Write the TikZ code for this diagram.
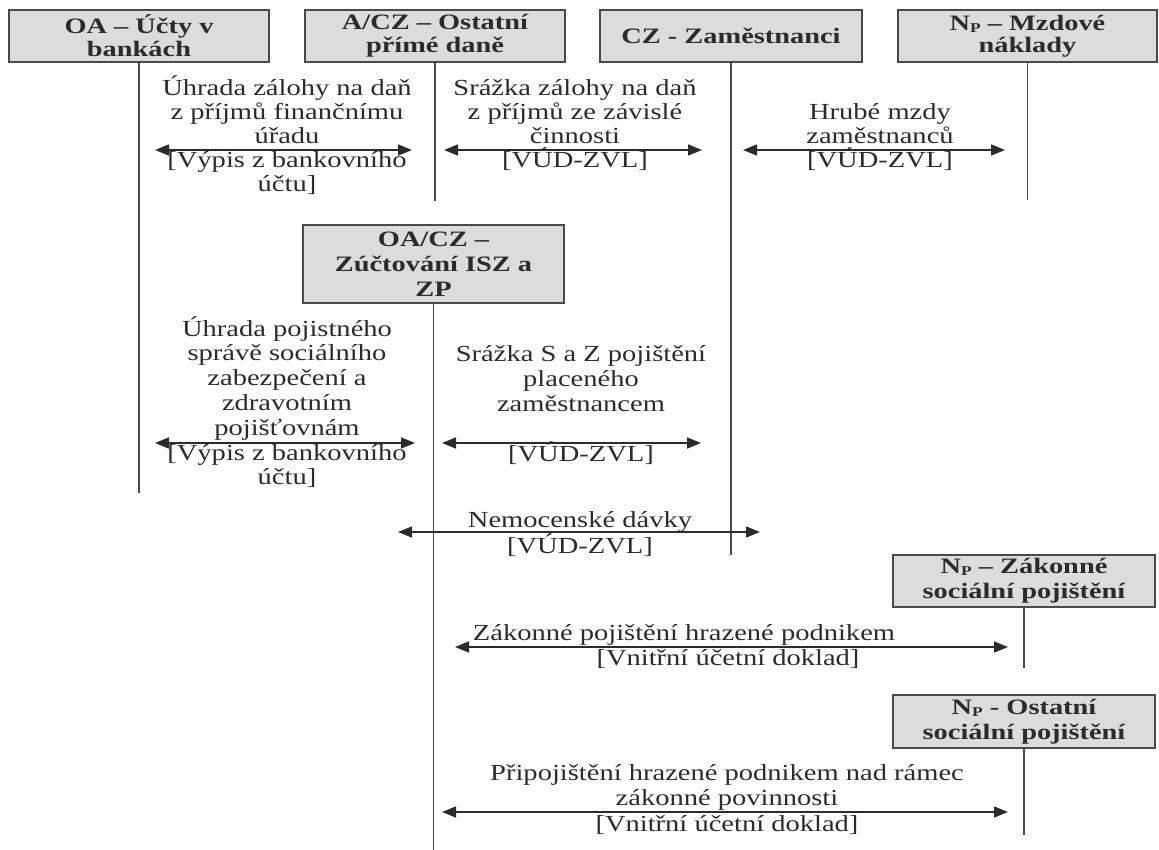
\documentclass[tikz,border=0pt]{standalone}
\usepackage{fontspec}
\setmainfont{Liberation Serif}[FakeStretch=1.24]
\newfontfamily\boxfont{Liberation Serif}[FakeStretch=1.29]
\usetikzlibrary{arrows.meta}

\definecolor{ink}{HTML}{2B2B2B}
\definecolor{boxfill}{HTML}{DCDCDE}
\definecolor{rule}{HTML}{4A4A4A}

% centred block of lines; the baseline of the block is the baseline of its first line
\newcommand\blk[2][24.5pt]{\vtop{\baselineskip=#1\relax\lineskiplimit=-\maxdimen
  \halign{\hfil##\hfil\cr#2\crcr}}}
% N with a small lowered P
\newcommand\Np{N\raisebox{-2pt}{\fontsize{13.5}{13.5}\selectfont P}}

\begin{document}
\begin{tikzpicture}[x=1pt,y=-1pt,
  acct/.style={draw=rule, line width=1.4pt, fill=boxfill, inner sep=0pt,
    font=\boxfont\fontsize{22}{24}\selectfont\bfseries, text=ink,
    minimum width=260pt, minimum height=52pt},
  lbl/.style={inner sep=0pt, anchor=base, font=\fontsize{23}{24.5}\selectfont, text=ink},
  life/.style={draw=rule, line width=1.2pt},
  flow/.style={draw=ink, line width=1.6pt,
    {Triangle[length=14pt,width=11pt]}-{Triangle[length=14pt,width=11pt]}}]

\useasboundingbox (0,0) rectangle (1159,850);

% accounts
\node[acct] (oa)  at (139,36)  {\blk[23pt]{OA – Účty v\cr bankách}};
\node[acct] (acz) at (435,36)  {\blk[23pt]{A/CZ – Ostatní\cr přímé daně}};
\node[acct, minimum width=262pt] (cz) at (731,36) {CZ - Zaměstnanci};
\node[acct, minimum width=259pt] (npm) at (1027.5,36) {\blk[22pt]{\Np{} – Mzdové\cr náklady}};
\node[acct, minimum width=261pt, minimum height=78pt] (isz) at (433.5,264)
  {\blk[25pt]{OA/CZ –\cr Zúčtování ISZ a\cr ZP}};
\node[acct, minimum width=262pt] (npz) at (1024,581)
  {\blk[25pt]{\Np{} – Zákonné\cr sociální pojištění}};
\node[acct, minimum width=262pt, minimum height=53pt] (npo) at (1024,721.5)
  {\blk[25pt]{\Np{} - Ostatní\cr sociální pojištění}};

% lifelines
\coordinate (oaend)  at (oa.south |- 0,493);
\coordinate (aczend) at (acz.south |- 0,201);
\coordinate (czend)  at (cz.south |- 0,555);
\coordinate (npmend) at (npm.south |- 0,200);
\coordinate (iszend) at (isz.south |- 0,850);
\coordinate (npzend) at (npz.south |- 0,668);
\coordinate (npoend) at (npo.south |- 0,835);
\draw[life] (oa.south)  -- (oaend);
\draw[life] (acz.south) -- (aczend);
\draw[life] (cz.south)  -- (czend);
\draw[life] (npm.south) -- (npmend);
\draw[life] (isz.south) -- (iszend);
\draw[life] (npz.south) -- (npzend);
\draw[life] (npo.south) -- (npoend);

% flow arrows
\coordinate (f1a) at (155,150);  \coordinate (f1b) at (412,150);
\coordinate (f2a) at (444,150);  \coordinate (f2b) at (702,150);
\coordinate (f3a) at (743,150);  \coordinate (f3b) at (1005,150);
\coordinate (f4a) at (155,443);  \coordinate (f4b) at (415,443);
\coordinate (f5a) at (442,443);  \coordinate (f5b) at (701,443);
\coordinate (f6a) at (398,532);  \coordinate (f6b) at (760,532);
\coordinate (f7a) at (455,647);  \coordinate (f7b) at (1008,647);
\coordinate (f8a) at (442,812);  \coordinate (f8b) at (1008,812);
\foreach \i in {1,...,8} \draw[flow] (f\i a) -- (f\i b);

% flow labels
\node[lbl] (t1) at (287,96) {\blk[24pt]{Úhrada zálohy na daň\cr z příjmů finančnímu\cr úřadu\cr
  [Výpis z bankovního\cr účtu]}};
\node[lbl] (t2) at (575,96) {\blk[24pt]{Srážka zálohy na daň\cr z příjmů ze závislé\cr činnosti\cr [VÚD-ZVL]}};
\node[lbl] (t3) at (880,120) {\blk[24pt]{Hrubé mzdy\cr zaměstnanců\cr [VÚD-ZVL]}};
\node[lbl] (t4) at (287,336) {\blk[24.8pt]{Úhrada pojistného\cr správě sociálního\cr zabezpečení a\cr
  zdravotním\cr pojišťovnám\cr [Výpis z bankovního\cr účtu]}};
\node[lbl] (t5) at (581,361) {\blk[25pt]{Srážka S a Z pojištění\cr placeného\cr zaměstnancem\cr \cr [VÚD-ZVL]}};
\node[lbl] (t6) at (580,527) {\blk[26pt]{Nemocenské dávky\cr [VÚD-ZVL]}};
\node[lbl] (t7) at (684,640) {Zákonné pojištění hrazené podnikem};
\node[lbl] (t7d) at (728,665) {[Vnitřní účetní doklad]};
\node[lbl] (t8) at (727,780) {\blk[25.5pt]{Připojištění hrazené podnikem nad rámec\cr
  zákonné povinnosti\cr [Vnitřní účetní doklad]}};
\end{tikzpicture}
\end{document}
